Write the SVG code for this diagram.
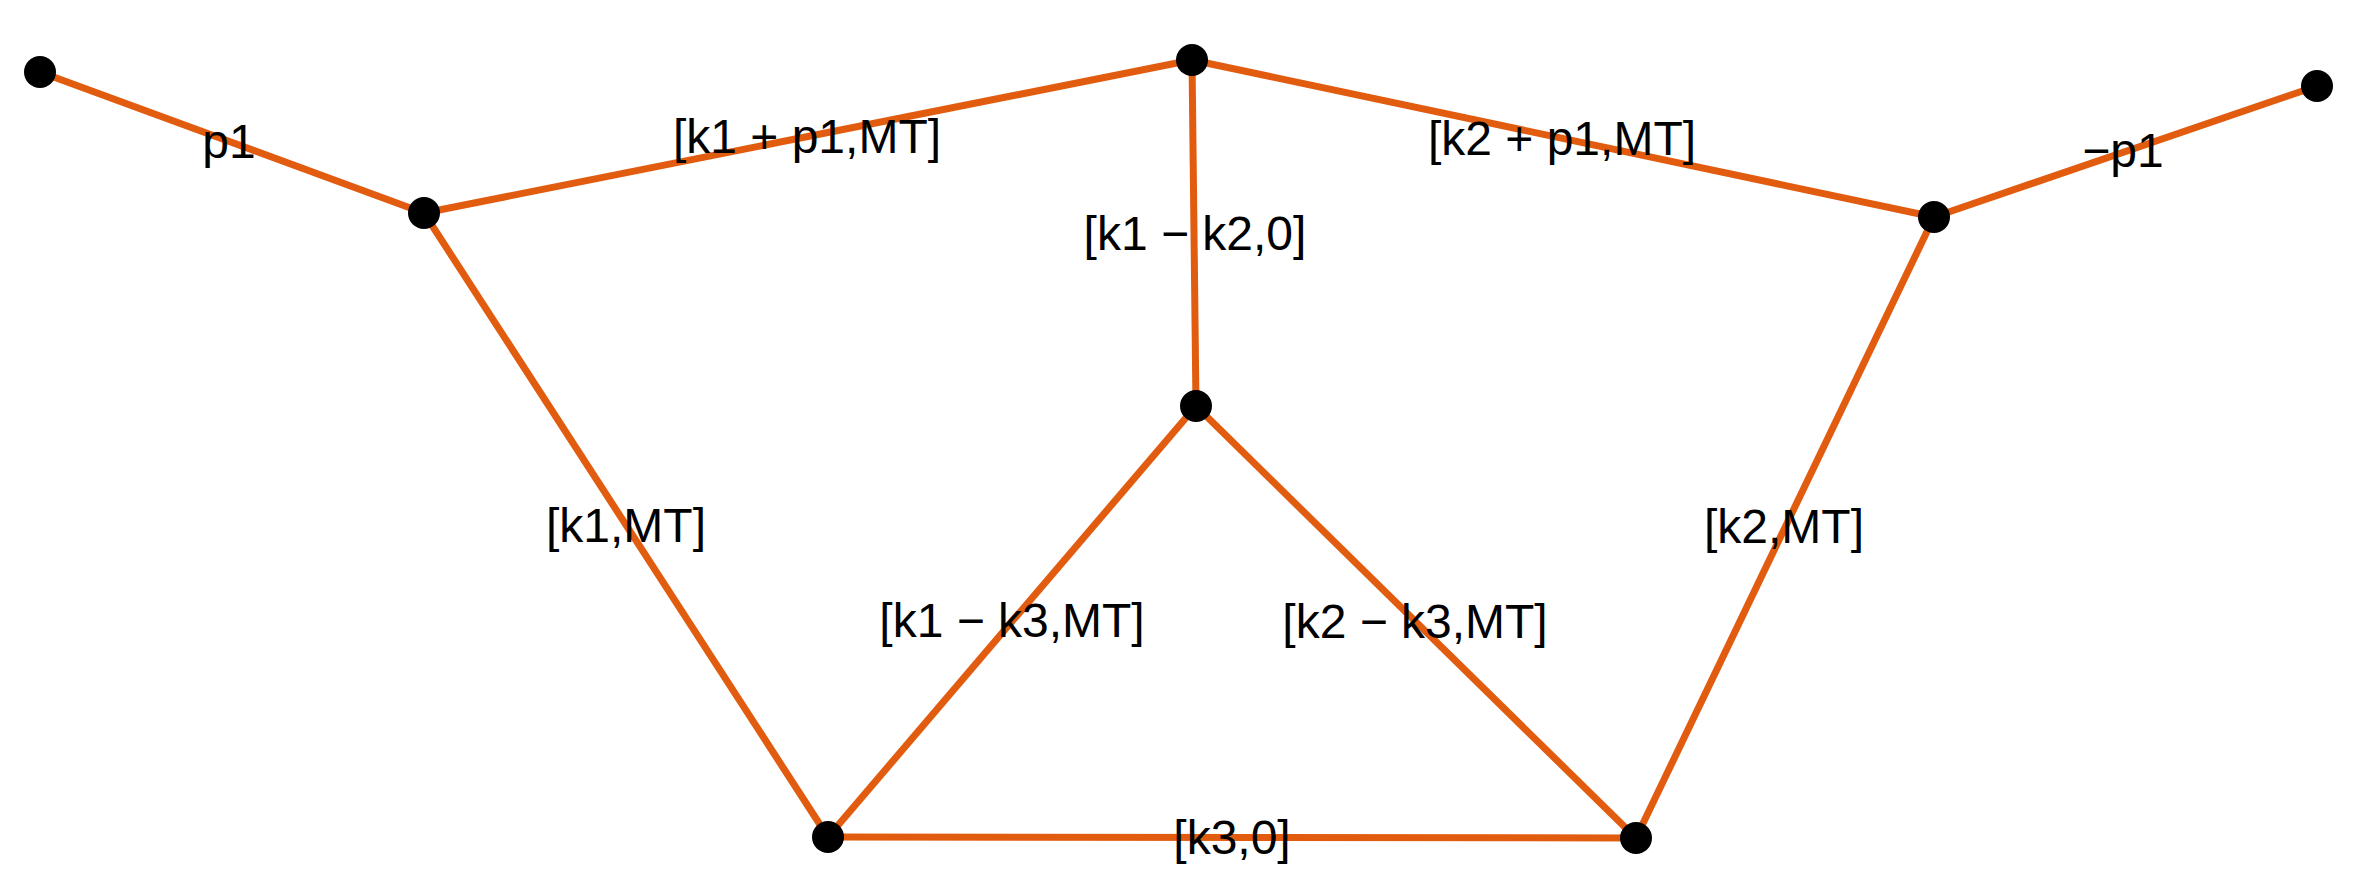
<svg xmlns="http://www.w3.org/2000/svg" width="2370" height="890" viewBox="0 0 2370 890">
<style>
.e{stroke:#E25C10;stroke-width:7;fill:none;stroke-linecap:butt}
.n{fill:#000}
.t{font-family:"Liberation Sans",Arial,sans-serif;font-size:48px;fill:#000;text-anchor:middle}
</style>
<rect width="2370" height="890" fill="#fff"/>
<g id="connectors">
<line class="e" x1="40" y1="72" x2="424" y2="213"/>
<line class="e" x1="424" y1="213" x2="1192" y2="60"/>
<line class="e" x1="1192" y1="60" x2="1934" y2="217"/>
<line class="e" x1="1934" y1="217" x2="2317" y2="86"/>
<line class="e" x1="1192" y1="60" x2="1196" y2="406"/>
<line class="e" x1="424" y1="213" x2="828" y2="837"/>
<line class="e" x1="1196" y1="406" x2="828" y2="837"/>
<line class="e" x1="1196" y1="406" x2="1636" y2="838"/>
<line class="e" x1="1934" y1="217" x2="1636" y2="838"/>
<line class="e" x1="828" y1="837" x2="1636" y2="838"/>
</g>
<g id="nA"><circle class="n" cx="40" cy="72" r="16"/></g>
<g id="nB"><circle class="n" cx="424" cy="213" r="16"/></g>
<g id="nC"><circle class="n" cx="1192" cy="60" r="16"/></g>
<g id="nD"><circle class="n" cx="1934" cy="217" r="16"/></g>
<g id="nE"><circle class="n" cx="2317" cy="86" r="16"/></g>
<g id="nF"><circle class="n" cx="1196" cy="406" r="16"/></g>
<g id="nG"><circle class="n" cx="828" cy="837" r="16"/></g>
<g id="nH"><circle class="n" cx="1636" cy="838" r="16"/></g>
<g id="labels">
<text class="t" x="229" y="158">p1</text>
<text class="t" x="807" y="153">[k1 + p1,MT]</text>
<text class="t" x="1562" y="155">[k2 + p1,MT]</text>
<text class="t" x="2123" y="167">−p1</text>
<text class="t" x="1195" y="250">[k1 − k2,0]</text>
<text class="t" x="626" y="542">[k1,MT]</text>
<text class="t" x="1012" y="637">[k1 − k3,MT]</text>
<text class="t" x="1415" y="638">[k2 − k3,MT]</text>
<text class="t" x="1784" y="543">[k2,MT]</text>
<text class="t" x="1232" y="854">[k3,0]</text>
</g>
</svg>
